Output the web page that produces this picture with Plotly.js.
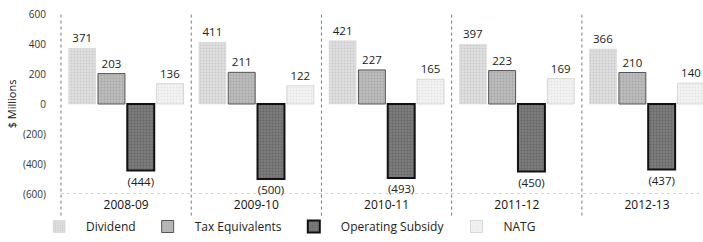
<!DOCTYPE html>
<html><head><meta charset="utf-8">
<script src="https://cdn.plot.ly/plotly-3.0.1.min.js"></script>
<style>html,body{margin:0;padding:0;background:#fff;}#chart{width:703px;height:242px;}</style>
</head><body><div id="chart"></div>
<script>
const years = ['2008-09','2009-10','2010-11','2011-12','2012-13'];
const dividend = [371, 411, 421, 397, 366];
const taxEquivalents = [203, 211, 227, 223, 210];
const operatingSubsidy = [-444, -500, -493, -450, -437];
const natg = [136, 122, 165, 169, 140];
const yTickVals = [-600, -400, -200, 0, 200, 400, 600];
const yTickText = ['(600)', '(400)', '(200)', '0', '200', '400', '600'];

const fmt = v => v < 0 ? '(' + (-v) + ')' : String(v);
const font = 'Open Sans, Noto Sans, sans-serif';

function series(name, vals, bg, fg, lineColor, lineWidth) {
  return {
    type: 'bar', name: name, x: years, y: vals,
    text: vals.map(fmt), textposition: 'outside', cliponaxis: false,
    textfont: {family: font, size: 11.5, color: '#222'},
    marker: {
      color: bg,
      pattern: {shape: '.', fgcolor: fg, bgcolor: bg, size: 3, solidity: 0.3},
      line: {color: lineColor, width: lineWidth}
    },
    hoverinfo: 'skip'
  };
}

const data = [
  series('Dividend', dividend, '#e0e0e0', '#cacaca', '#d2d2d2', 0.5),
  series('Tax Equivalents', taxEquivalents, '#bdbdbd', '#a6a6a6', '#555', 1),
  series('Operating Subsidy', operatingSubsidy, '#7c7c7c', '#666666', '#111', 2),
  series('NATG', natg, '#f4f4f4', '#e4e4e4', '#cfcfcf', 0.8)
];

const sepShapes = [0.5, 1.5, 2.5, 3.5].map(b => ({
  type: 'line', xref: 'x', yref: 'paper', x0: b, x1: b, y0: -0.12, y1: 1.01,
  line: {color: '#777', width: 1, dash: 'dot'}, layer: 'below'
}));

const layout = {
  width: 703, height: 242,
  margin: {l: 61, r: 0, t: 14, b: 48, autoexpand: false},
  paper_bgcolor: '#fff', plot_bgcolor: '#fff',
  barmode: 'group', bargap: 0.1, bargroupgap: 0.08,
  showlegend: true,
  legend: {orientation: 'h', x: -0.045, xanchor: 'left', y: -0.10, yanchor: 'top',
           font: {family: font, size: 12, color: '#222'}, itemwidth: 44, traceorder: 'normal',
           bgcolor: 'rgba(0,0,0,0)'},
  xaxis: {
    type: 'category', range: [-0.5, 4.43],
    showgrid: false, ticks: '', showline: false, zeroline: false,
    tickfont: {family: font, size: 12, color: '#111'}, ticklabelstandoff: 2
  },
  yaxis: {
    range: [-600, 600], tickvals: yTickVals, ticktext: yTickText,
    showgrid: false, zeroline: false, showline: false, ticks: '',
    tickfont: {family: font, size: 10, color: '#333'}, ticklabelstandoff: 14,
    title: {text: '$ Millions', font: {family: font, size: 11, color: '#111'}, standoff: 4}
  },
  shapes: [
    {type: 'line', xref: 'paper', yref: 'y', x0: 0, x1: 1, y0: -600, y1: -600,
     line: {color: '#aaa', width: 1, dash: 'dot'}, layer: 'below'},
    {type: 'line', xref: 'paper', yref: 'paper', x0: 0, x1: 0, y0: -0.12, y1: 1,
     line: {color: '#777', width: 1, dash: 'dot'}, layer: 'below'}
  ].concat(sepShapes)
};

Plotly.newPlot('chart', data, layout, {staticPlot: true, displayModeBar: false});
</script></body></html>
